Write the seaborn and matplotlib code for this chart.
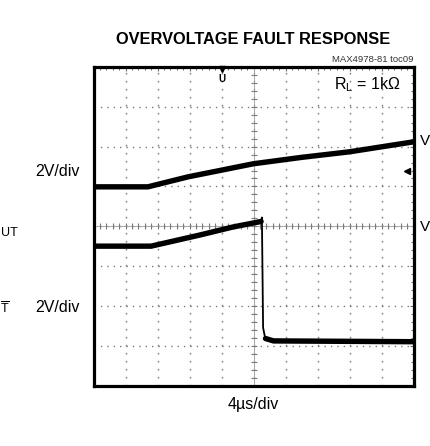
import numpy as np
import matplotlib
matplotlib.use("Agg")
import matplotlib.pyplot as plt
from matplotlib.ticker import MultipleLocator
import seaborn as sns

# time axis in microseconds (4 us/div), traces in scope divisions (2 V/div)
t_in = [0.0, 6.8, 11.8, 20.0, 26.0, 32.0, 40.0]
v_in = [4.99, 4.99, 5.24, 5.57, 5.73, 5.87, 6.12]

t_out_pre = [0.0, 7.2, 13.3, 17.4, 20.95]
v_out_pre = [3.50, 3.50, 3.78, 3.98, 4.12]
t_out_edge = [20.95, 21.05, 21.2, 21.4, 21.6]
v_out_edge = [4.12, 4.22, 1.45, 1.25, 1.16]
t_out_post = [21.5, 22.5, 40.0]
v_out_post = [1.18, 1.12, 1.10]

trig_time = 16.0
trig_level = 5.39

sns.set_style("white")
plt.rcParams["font.family"] = ["Liberation Sans", "DejaVu Sans"]
plt.rcParams["mathtext.fontset"] = "custom"
plt.rcParams["mathtext.rm"] = "Liberation Sans"
plt.rcParams["text.color"] = "black"
plt.rcParams["lines.scale_dashes"] = False

fig = plt.figure(figsize=(4.3, 4.46), dpi=100)
ax = fig.add_axes([93.5 / 430, 1 - 385.5 / 446, 320 / 430, 318.5 / 446])

ax.set_xlim(0, 40)
ax.set_ylim(0, 8)
ax.xaxis.set_major_locator(MultipleLocator(4))
ax.yaxis.set_major_locator(MultipleLocator(1))
ax.xaxis.set_minor_locator(MultipleLocator(0.8))
ax.yaxis.set_minor_locator(MultipleLocator(0.2))
ax.tick_params(which="both", direction="in", top=True, right=True,
               labelbottom=False, labelleft=False, color="#707070", width=0.8)
ax.tick_params(which="major", length=3)
ax.tick_params(which="minor", length=2.5)

grid_col = "#7c7c7c"
ax.xaxis.grid(True, which="major", color=grid_col, lw=1.0, linestyle=(0, (1.2, 4.56)))
ax.yaxis.grid(True, which="major", color=grid_col, lw=1.0, linestyle=(0, (1.0, 3.6)))
ax.set_axisbelow(True)

# center graticule: solid thin lines with small cross ticks
ax.axhline(4.0, color="#a8a8a8", lw=0.7, zorder=1)
ax.axvline(20.0, color="#a8a8a8", lw=0.7, zorder=1)
cx = np.arange(0, 40.01, 0.8)
cy = np.arange(0, 8.01, 0.2)
ax.plot(cx, np.full_like(cx, 4.0), ls="none", marker="|", ms=4.5, mew=0.8, color="#7a7a7a", zorder=1)
ax.plot(np.full_like(cy, 20.0), cy, ls="none", marker="_", ms=4.5, mew=0.8, color="#7a7a7a", zorder=1)

for s in ax.spines.values():
    s.set_linewidth(2.3)
    s.set_color("black")

# traces
sns.lineplot(x=t_in, y=v_in, ax=ax, color="black", lw=3.9, sort=False,
             estimator=None, solid_capstyle="round", zorder=3)
sns.lineplot(x=t_out_pre, y=v_out_pre, ax=ax, color="black", lw=3.9, sort=False,
             estimator=None, solid_capstyle="round", zorder=3)
sns.lineplot(x=t_out_edge, y=v_out_edge, ax=ax, color="black", lw=1.3, sort=False,
             estimator=None, zorder=3)
sns.lineplot(x=t_out_post, y=v_out_post, ax=ax, color="black", lw=3.9, sort=False,
             estimator=None, solid_capstyle="round", zorder=3)

# trigger markers
ax.plot([trig_time], [7.95], marker="v", ms=4.5, color="black", clip_on=False, zorder=4)
ax.text(trig_time, 7.83, "U", ha="center", va="top", fontsize=7,
        fontweight="bold", color="black", zorder=4)
ax.plot([39.2], [trig_level], marker="<", ms=4, color="black", zorder=4)

ax.text((334 - 93.5) / 8, 7.55, "R$_\\mathregular{L}$ = 1kΩ", ha="left", va="center", fontsize=11.5)

# figure text
fig.text(253 / 430, 1 - 40 / 446, "OVERVOLTAGE FAULT RESPONSE", ha="center", va="center",
         fontsize=11.8, fontweight="bold")
fig.text(413 / 430, 1 - 59 / 446, "MAX4978-81 toc09", ha="right", va="center",
         fontsize=6.8, color="#333333")
fig.text(80 / 430, 1 - 172 / 446, "2V/div", ha="right", va="center", fontsize=11.5)
fig.text(80 / 430, 1 - 308 / 446, "2V/div", ha="right", va="center", fontsize=11.5)
fig.text(253 / 430, 1 - 404 / 446, "4µs/div", ha="center", va="center", fontsize=11.5)

# visible remnants of the channel labels at the figure edges
fig.text(0.5 / 430, 1 - 233 / 446, "UT", ha="left", va="center", fontsize=9)
fig.text(0.5 / 430, 1 - 309 / 446, "$\\overline{\\mathregular{T}}$", ha="left",
         va="center", fontsize=9)
fig.text(419.5 / 430, 1 - 141 / 446, "V", ha="left", va="center", fontsize=11)
fig.text(419.5 / 430, 1 - 227 / 446, "V", ha="left", va="center", fontsize=11)

fig.savefig("out.png", dpi=100)
